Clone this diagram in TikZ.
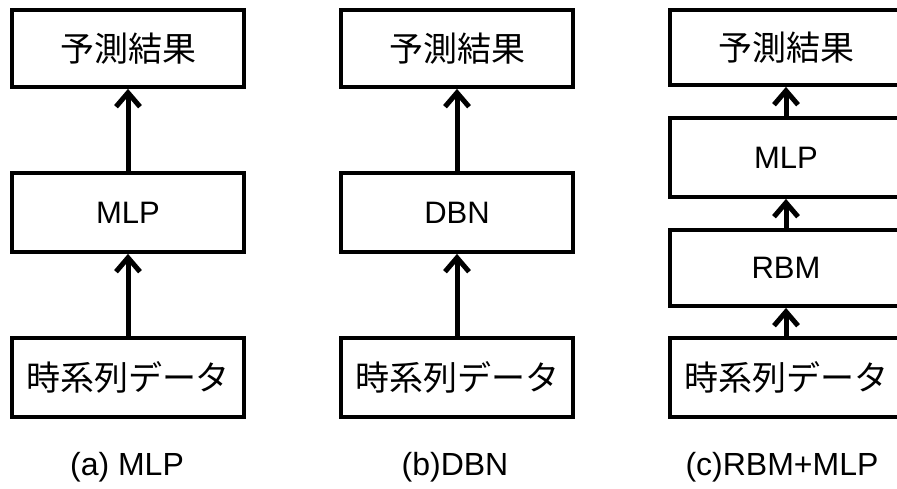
\documentclass[tikz,border=0pt]{standalone}
\usepackage{fontspec}
\setmainfont{Liberation Sans}
\newfontfamily\jpfont{Noto Sans CJK JP}
\usetikzlibrary{arrows.meta}
\tikzset{
  box/.style={draw=black, line width=3.8pt, minimum width=232pt, inner sep=0pt, fill=white},
  jp/.style={font=\jpfont\fontsize{34}{36}\selectfont},
  lat/.style={font=\fontsize{31}{34}\selectfont},
  conn/.style={line width=5pt, -{Straight Barb[length=14pt,width=24pt,line width=5pt]}},
  caplabel/.style={font=\fontsize{32}{34}\selectfont}
}
\begin{document}
\begin{tikzpicture}[x=1pt,y=-1pt]
\useasboundingbox (0,0) rectangle (897,488);
\clip (0,0) rectangle (897,488);
% (a)
\node[box, jp, minimum height=77pt] (a3) at (128,48.5) {予測結果};
\node[box, lat, minimum height=79pt] (a2) at (128,212.5) {MLP};
\node[box, jp, minimum height=79pt] (a1) at (128,377.5) {時系列データ};
\draw[conn] (a1) -- (a2);
\draw[conn] (a2) -- (a3);
\node[caplabel] (la) at (127,467) {(a) MLP};
% (b)
\node[box, jp, minimum height=77pt] (b3) at (457,48.5) {予測結果};
\node[box, lat, minimum height=79pt] (b2) at (457,212.5) {DBN};
\node[box, jp, minimum height=79pt] (b1) at (457,377.5) {時系列データ};
\draw[conn] (b1) -- (b2);
\draw[conn] (b2) -- (b3);
\node[caplabel] (lb) at (455,467) {(b)DBN};
% (c)
\node[box, jp, minimum height=75pt] (c4) at (786,47.5) {予測結果};
\node[box, lat, minimum height=79pt] (c3) at (786,157.5) {MLP};
\node[box, lat, minimum height=76pt] (c2) at (786,268) {RBM};
\node[box, jp, minimum height=79pt] (c1) at (786,377.5) {時系列データ};
\draw[conn] (c1) -- (c2);
\draw[conn] (c2) -- (c3);
\draw[conn] (c3) -- (c4);
\node[caplabel] (lc) at (782,467) {(c)RBM+MLP};
\end{tikzpicture}
\end{document}
